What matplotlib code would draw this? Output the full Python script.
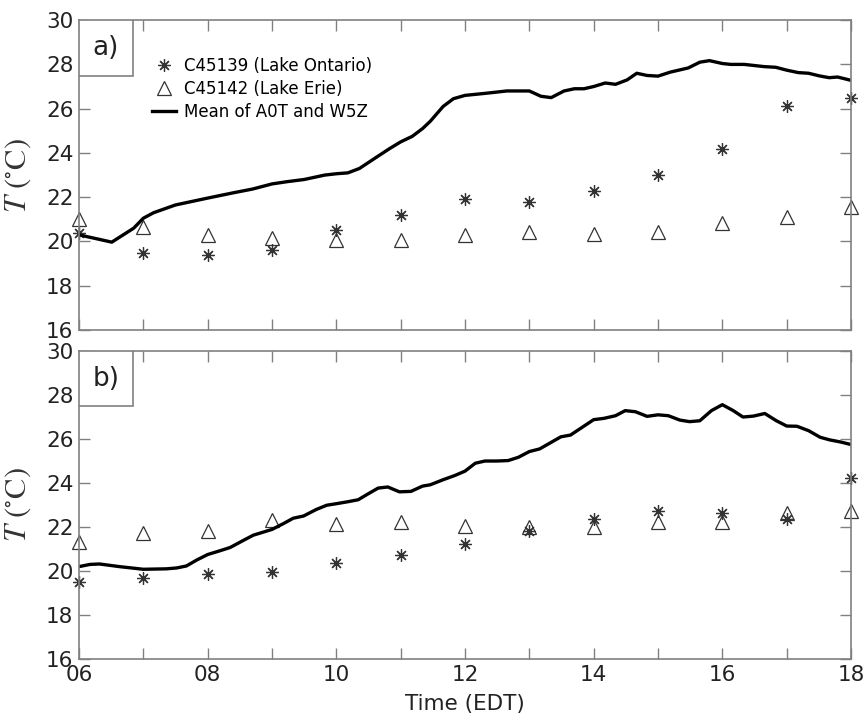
import matplotlib
matplotlib.use('Agg')
import matplotlib.pyplot as plt
from matplotlib.patches import Rectangle

plt.rcParams['mathtext.fontset'] = 'stix'

hours = [6, 7, 8, 9, 10, 11, 12, 13, 14, 15, 16, 17, 18]

# panel a
ont_a = [20.4, 19.5, 19.4, 19.6, 20.5, 21.2, 21.9, 21.8, 22.3, 23.0, 24.2, 26.1, 26.5]
erie_a = [21.0, 20.65, 20.3, 20.15, 20.05, 20.05, 20.3, 20.45, 20.35, 20.45, 20.85, 21.1, 21.55]
line_a_t = [6.0, 6.51, 6.85, 7.0, 7.16, 7.5, 8.0, 8.4, 8.7, 9.0, 9.23, 9.5, 9.82, 10.0, 10.18,
            10.36, 10.62, 10.83, 11.0, 11.18, 11.34, 11.46, 11.66, 11.82, 12.0, 12.34, 12.65,
            13.0, 13.18, 13.34, 13.54, 13.7, 13.85, 14.0, 14.18, 14.34, 14.52, 14.67, 14.83,
            15.0, 15.19, 15.47, 15.65, 15.8, 16.0, 16.13, 16.34, 16.65, 16.83, 17.0, 17.18,
            17.34, 17.51, 17.66, 17.79, 18.0]
line_a_T = [20.3, 19.97, 20.6, 21.05, 21.3, 21.65, 21.96, 22.2, 22.37, 22.6, 22.7, 22.8,
            23.0, 23.06, 23.1, 23.3, 23.8, 24.2, 24.5, 24.75, 25.1, 25.43, 26.1, 26.45, 26.6,
            26.7, 26.8, 26.8, 26.56, 26.5, 26.8, 26.9, 26.9, 27.0, 27.16, 27.1, 27.3, 27.6,
            27.5, 27.47, 27.65, 27.84, 28.1, 28.17, 28.04, 28.0, 28.0, 27.9, 27.87, 27.74,
            27.63, 27.6, 27.48, 27.4, 27.43, 27.28]

# panel b
ont_b = [19.5, 19.7, 19.85, 19.97, 20.35, 20.75, 21.25, 21.8, 22.35, 22.75, 22.65, 22.35, 24.25]
erie_b = [21.3, 21.73, 21.82, 22.32, 22.14, 22.22, 22.05, 22.02, 22.02, 22.25, 22.23, 22.65, 22.72]
line_b_t = [6.0, 6.17, 6.32, 6.63, 7.0, 7.36, 7.52, 7.67, 7.83, 8.0, 8.19, 8.35, 8.56, 8.71,
            9.0, 9.18, 9.33, 9.49, 9.69, 9.85, 10.0, 10.18, 10.34, 10.49, 10.65, 10.8, 10.98,
            11.16, 11.34, 11.46, 11.66, 11.84, 12.0, 12.16, 12.31, 12.49, 12.67, 12.83, 13.0,
            13.16, 13.31, 13.49, 13.64, 13.82, 14.0, 14.16, 14.34, 14.49, 14.65, 14.83, 15.0,
            15.16, 15.34, 15.49, 15.65, 15.83, 16.0, 16.17, 16.32, 16.48, 16.66, 16.84, 17.0,
            17.16, 17.34, 17.52, 17.67, 17.83, 18.0]
line_b_T = [20.2, 20.3, 20.32, 20.2, 20.08, 20.1, 20.14, 20.23, 20.5, 20.75, 20.92, 21.07,
            21.4, 21.63, 21.89, 22.16, 22.4, 22.5, 22.8, 22.99, 23.06, 23.15, 23.24, 23.5,
            23.77, 23.82, 23.6, 23.62, 23.86, 23.92, 24.15, 24.34, 24.54, 24.9, 25.0, 25.0,
            25.02, 25.17, 25.43, 25.55, 25.8, 26.1, 26.18, 26.53, 26.88, 26.94, 27.06, 27.29,
            27.24, 27.03, 27.1, 27.06, 26.86, 26.79, 26.83, 27.29, 27.56, 27.29, 27.0, 27.04,
            27.16, 26.83, 26.59, 26.58, 26.38, 26.08, 25.96, 25.87, 25.75]

panels = [
    ('a)', ont_a, erie_a, line_a_t, line_a_T),
    ('b)', ont_b, erie_b, line_b_t, line_b_T),
]

fig = plt.figure(figsize=(8.66, 7.19), dpi=100)
ax_a = fig.add_axes([0.0912, 0.541, 0.8915, 0.431])
ax_b = fig.add_axes([0.0912, 0.0834, 0.8915, 0.4284])

spine_col = '#808080'
mark_col = '#333333'
asterisk = (8, 2, 0)

for ax, (tag, ont, erie, lt, lT) in zip([ax_a, ax_b], panels):
    ax.plot(hours, ont, linestyle='none', marker=asterisk, markersize=9,
            markeredgewidth=0.9, color=mark_col, label='C45139 (Lake Ontario)', clip_on=False)
    ax.plot(hours, erie, linestyle='none', marker='^', markersize=10.5, markerfacecolor='none',
            markeredgewidth=0.9, markeredgecolor=mark_col, label='C45142 (Lake Erie)', clip_on=False)
    ax.plot(lt, lT, color='black', linewidth=2.4, label='Mean of A0T and W5Z')

    ax.set_xlim(6, 18)
    ax.set_ylim(16, 30)
    ax.set_xticks(hours)
    ax.set_yticks([16, 18, 20, 22, 24, 26, 28, 30])
    ax.tick_params(direction='in', length=8, width=1, color=spine_col,
                   top=True, right=True, labelsize=15.5, pad=4, labelcolor='#222222')
    for s in ax.spines.values():
        s.set_color(spine_col)
        s.set_linewidth(1.2)
    ax.set_ylabel(r'$T\ (^{\circ}\mathrm{C})$', fontsize=22, color='#333333')
    ax.yaxis.set_label_coords(-0.06, 0.5)

    ax.add_patch(Rectangle((0, 0.82), 0.07, 0.18, transform=ax.transAxes,
                           facecolor='white', edgecolor=spine_col, linewidth=1.2, zorder=5))
    ax.text(0.035, 0.91, tag, transform=ax.transAxes, ha='center', va='center',
            fontsize=19, zorder=6, color='#222222')

ax_a.set_xticklabels([])
ax_b.set_xticklabels(['%02d' % h if h % 2 == 0 else '' for h in hours])
ax_b.set_xlabel('Time (EDT)', fontsize=15.5, labelpad=7, color='#222222')

ax_a.legend(loc='upper left', bbox_to_anchor=(0.08, 0.92), frameon=False, fontsize=12,
            handlelength=1.4, handletextpad=0.5, labelspacing=0.3, borderpad=0.2)

fig.savefig('out.png', dpi=100)
